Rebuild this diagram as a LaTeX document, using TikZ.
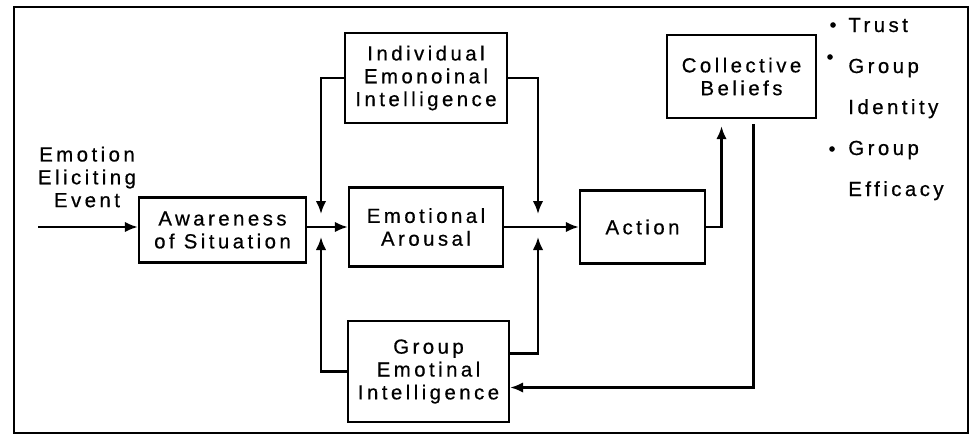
\documentclass[tikz,border=0pt]{standalone}
\usepackage{fontspec}
\setmainfont[LetterSpace=17, FakeBold=0.6]{Liberation Sans}
\usetikzlibrary{arrows.meta, positioning, calc}
\tikzset{
	blk/.style ={rectangle, draw=black, line width=1.4pt, align=center, inner sep=2pt},
	sig/.style ={-{Latex[length=2.6mm, width=2.1mm]}, line width=1.3pt},
	item/.style={anchor=base west, inner sep=0pt},
}

\begin{document}
\begin{tikzpicture}[x=0.02cm, y=-0.02cm, font=\fontsize{11.6}{13}\selectfont]
	\useasboundingbox (0,0) rectangle (973,436);
	% frame
	\draw[line width=1.6pt] (14,7) rectangle (968,433);
	% blocks
	\node[blk, minimum width=3.24cm, minimum height=1.8cm]  (indiv)   at (426,78)    {Individual\\Emonoinal\\Intelligence};
	\node[blk, minimum width=3.34cm, minimum height=1.3cm]  (aware)   at (222.5,230) {Awareness\\of Situation};
	\node[blk, minimum width=3.08cm, minimum height=1.58cm] (arousal) at (426,227)   {Emotional\\Arousal};
	\node[blk, minimum width=3.22cm, minimum height=2.02cm] (group)   at (428.5,371.5) {Group\\Emotinal\\Intelligence};
	\node[blk, minimum width=2.5cm,  minimum height=1.46cm] (action)  at (642.5,227) {Action};
	\node[blk, minimum width=2.98cm, minimum height=1.66cm] (beliefs) at (741.5,76.5) {Collective\\Beliefs};
	\node[align=center, inner sep=0pt] (event) at (87,177) {Emotion\\Eliciting\\Event};
	% joins
	\coordinate (in) at (38,227);
	\coordinate (j1) at (321,227);
	\coordinate (j2) at (538,227);
	% signals
	\draw[sig] (in) -- (aware.west |- in);
	\draw[sig] (aware.east |- j1) -- (arousal.west |- j1);
	\draw[sig] (indiv.west) -| ($(j1)+(0,-13)$);
	\draw[sig] (group.west) -| ($(j1)+(0,10)$);
	\draw[sig] (arousal.east) -- (action.west);
	\draw[sig] (indiv.east) -| ($(j2)+(0,-13)$);
	\draw[sig] ($(group.east)+(0,-18)$) -| ($(j2)+(0,10)$);
	\draw[sig] (action.east) -| ($(beliefs.south)+(-20,7)$);
	\draw[sig] ($(beliefs.south)+(12,5)$) |- ($(group.east)+(0,16)$);
	% belief list
	\foreach \txt [count=\i] in {Trust, Group, Identity, Group, Efficacy}
		\node[item] (item\i) at (848,{32+41*(\i-1)}) {\txt};
	\fill ($(item1.base west)+(-15,-7)$) circle (1.6pt);
	\fill ($(item2.base west)+(-18,-16)$) circle (1.6pt);
	\fill ($(item4.base west)+(-16,-6)$) circle (1.6pt);
\end{tikzpicture}
\end{document}
